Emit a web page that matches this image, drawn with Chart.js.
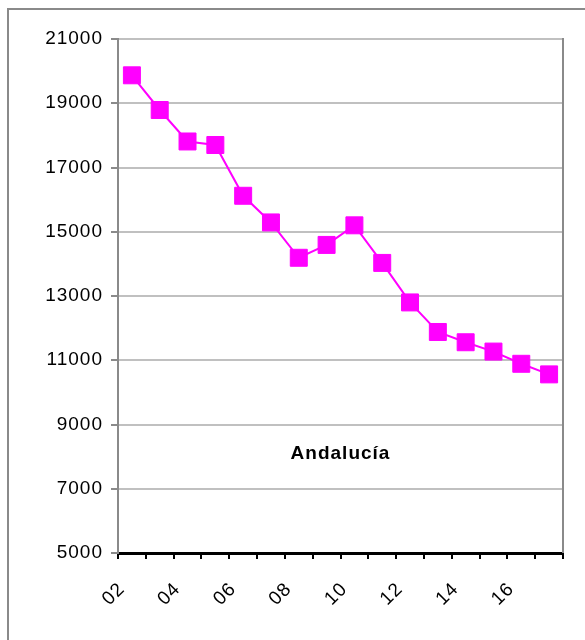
<!DOCTYPE html>
<html>
<head>
<meta charset="utf-8">
<script src="https://cdn.jsdelivr.net/npm/chart.js@4/dist/chart.umd.min.js"></script>
<style>
  html, body { margin: 0; padding: 0; background: #fff; }
  #wrap { position: relative; width: 585px; height: 640px; overflow: hidden; }
  #frame { position: absolute; left: 7px; top: 8px; width: 600px; height: 660px;
           border-left: 2px solid #8a8a8a; border-top: 2px solid #8a8a8a; }
  #chart { position: absolute; left: 0; top: 0; }
</style>
</head>
<body>
<div id="wrap">
  <div id="frame"></div>
  <canvas id="chart" width="585" height="640"></canvas>
</div>
<script>
// data
const years = ['02', '03', '04', '05', '06', '07', '08', '09', '10', '11', '12', '13', '14', '15', '16', '17'];
const values = [19870, 18790, 17810, 17700, 16120, 15290, 14190, 14590, 15200, 14030, 12800, 11880, 11560, 11270, 10890, 10560];
const regionName = 'Andalucía';
const yMin = 5000;
const yMax = 21000;
const yStep = 2000;

const fontFamily = "'Liberation Sans', Arial, sans-serif";

// right edge of the plot area and the region name
const extras = {
    id: 'extras',
    beforeDraw(chart) {
        chart.ctx.letterSpacing = '1px';
    },
    afterDraw(chart) {
        const { ctx, chartArea, scales } = chart;
        ctx.save();
        ctx.strokeStyle = '#8a8a8a';
        ctx.lineWidth = 2;
        ctx.beginPath();
        ctx.moveTo(chartArea.right, chartArea.top - 1);
        ctx.lineTo(chartArea.right, chartArea.bottom);
        ctx.stroke();

        ctx.fillStyle = '#000';
        ctx.font = 'bold 19px ' + fontFamily;
        ctx.letterSpacing = '1px';
        ctx.textAlign = 'center';
        ctx.textBaseline = 'middle';
        ctx.fillText(regionName, (chartArea.left + chartArea.right) / 2, scales.y.getPixelForValue(8100));
        ctx.restore();
    }
};

const ctx = document.getElementById('chart').getContext('2d');
new Chart(ctx, {
    type: 'line',
    data: {
        labels: years,
        datasets: [{
            data: values,
            borderColor: '#ff00ff',
            backgroundColor: '#ff00ff',
            borderWidth: 2,
            pointStyle: 'rect',
            pointRadius: 12,
            pointBorderWidth: 1,
            tension: 0
        }]
    },
    options: {
        responsive: false,
        animation: false,
        layout: { padding: { left: 0, top: 39, right: 22, bottom: 0 } },
        plugins: {
            legend: { display: false },
            tooltip: { enabled: false }
        },
        scales: {
            x: {
                type: 'category',
                offset: true,
                afterFit(s) { s.height = 87; },
                grid: {
                    offset: true,
                    drawOnChartArea: false,
                    tickLength: 6,
                    color: '#000',
                    lineWidth: 2
                },
                border: { color: '#000', width: 3 },
                ticks: {
                    autoSkip: false,
                    maxRotation: 45,
                    minRotation: 45,
                    padding: 19,
                    labelOffset: -10,
                    color: '#000',
                    font: { family: fontFamily, size: 19 },
                    callback(v, i) { return i % 2 === 0 ? years[i] : ''; }
                }
            },
            y: {
                min: yMin,
                max: yMax,
                afterFit(s) { s.width = 118; },
                grid: {
                    color: '#c0c0c0',
                    tickColor: '#8a8a8a',
                    lineWidth: 2,
                    tickLength: 7
                },
                border: { color: '#8a8a8a', width: 2 },
                ticks: {
                    stepSize: yStep,
                    padding: 8,
                    color: '#000',
                    font: { family: fontFamily, size: 19 },
                    callback(v) { return String(v); }
                }
            }
        }
    },
    plugins: [extras]
});
</script>
</body>
</html>
